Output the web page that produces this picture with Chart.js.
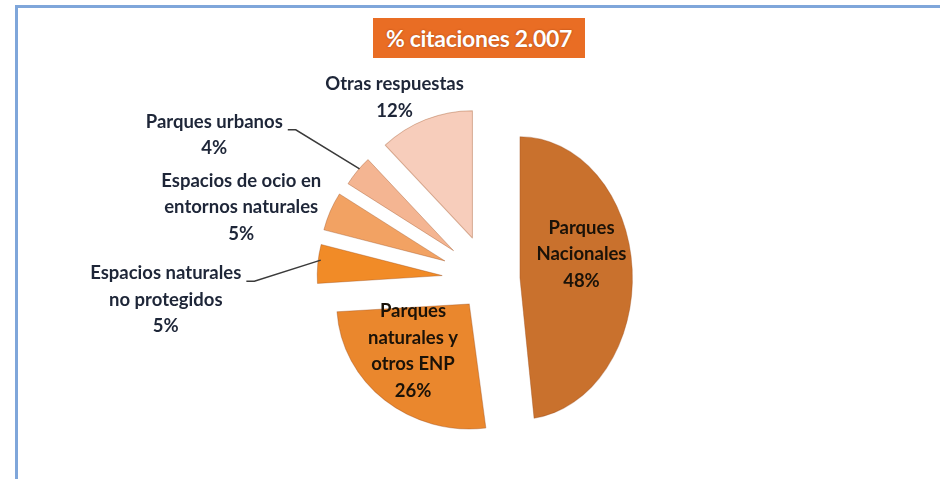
<!DOCTYPE html>
<html>
<head>
<meta charset="utf-8">
<script src="https://cdn.jsdelivr.net/npm/chart.js@4.4.0/dist/chart.umd.min.js"></script>
<style>
    html, body { margin: 0; padding: 0; background: #fff; overflow: hidden; }
    #wrap { position: relative; width: 940px; height: 479px; }
    #frame {
        position: absolute; left: 15px; top: 5px; width: 1000px; height: 600px;
        border-left: 3px solid #7fa6da; border-top: 3px solid #7fa6da;
    }
    #titulo {
        position: absolute; left: 373px; top: 18px; width: 212px; height: 40px;
        background: #e96d24; color: #fff; font: bold 23px Lato, sans-serif;
        line-height: 40px; text-align: center; letter-spacing: -0.3px;
        text-shadow: 0 0 2px rgba(120, 40, 0, 0.6);
    }
    canvas { position: absolute; left: 0; top: 0; }
</style>
</head>
<body>
<div id="wrap">
    <div id="frame"></div>
    <canvas id="grafico" width="940" height="479"></canvas>
    <div id="titulo">% citaciones 2.007</div>
</div>
<script>
// --- Dados ---
const categorias = [
    'Parques Nacionales',
    'Parques naturales y otros ENP',
    'Espacios naturales no protegidos',
    'Espacios de ocio en entornos naturales',
    'Parques urbanos',
    'Otras respuestas'
];
const porcentajes = [48, 26, 5, 5, 4, 12];

// linhas de texto de cada rótulo
const rotulos = [
    ['Parques', 'Nacionales'],
    ['Parques', 'naturales y', 'otros ENP'],
    ['Espacios naturales', 'no protegidos'],
    ['Espacios de ocio en', 'entornos naturales'],
    ['Parques urbanos'],
    ['Otras respuestas']
];

// --- Estilo ---
const cores = ['#c9712d', '#ea872d', '#f18b27', '#f2a263', '#f4b592', '#f7cdbb'];
const explode = [31, 31, 47, 48, 46, 45];          // deslocamento de cada fatia
const escalaX = [0.9, 1.06, 1.0, 1.0, 1.0, 1.02];  // raio horizontal relativo
const escalaY = [1.13, 1.0, 1.0, 1.0, 1.0, 1.02];  // raio vertical relativo
// [fração do raio, dx, dy, linha guia]
const posRotulo = [
    [0.45, 11, -20, false],
    [0.5, -14, -1, false],
    [1, -152, 36, true],
    [1, -89, -4, false],
    [1, -143, -36, true],
    [1, -31, -22, false]
];

// controlador de pizza "explodida": desloca e escala cada fatia
class ExplodedPieController extends Chart.PieController {
    draw() {
        const ctx = this.chart.ctx;
        const arcs = this._cachedMeta.data;
        arcs.forEach((arc, i) => {
            const mid = (arc.startAngle + arc.endAngle) / 2;
            const ax = arc.x + Math.cos(mid) * explode[i];
            const ay = arc.y + Math.sin(mid) * explode[i];
            ctx.save();
            ctx.translate(ax, ay);
            ctx.scale(escalaX[i], escalaY[i]);
            ctx.translate(-arc.x, -arc.y);
            arc.draw(ctx);
            ctx.restore();
        });
    }
}
ExplodedPieController.id = 'explodedPie';
Chart.register(ExplodedPieController);

function geometria(arc, i) {
    const mid = (arc.startAngle + arc.endAngle) / 2;
    const ax = arc.x + Math.cos(mid) * explode[i];
    const ay = arc.y + Math.sin(mid) * explode[i];
    const rx = arc.outerRadius * escalaX[i];
    const ry = arc.outerRadius * escalaY[i];
    return { mid, ax, ay, rx, ry };
}

const rotulosPlugin = {
    id: 'rotulos',
    afterDatasetsDraw(chart) {
        const ctx = chart.ctx;
        const arcs = chart.getDatasetMeta(0).data;
        const lh = 26.5;
        ctx.save();
        ctx.font = 'bold 18.5px Lato, sans-serif';
        ctx.textAlign = 'center';
        ctx.textBaseline = 'middle';
        arcs.forEach((arc, i) => {
            const g = geometria(arc, i);
            const [frac, dx, dy, guia] = posRotulo[i];
            const cx = g.ax + Math.cos(g.mid) * g.rx * frac + dx;
            const cy = g.ay + Math.sin(g.mid) * g.ry * frac + dy;
            const linhas = rotulos[i].concat([porcentajes[i] + '%']);
            const y0 = cy - (linhas.length - 1) / 2 * lh;
            ctx.fillStyle = frac < 1 ? '#1a1208' : '#1e2638';
            linhas.forEach((t, k) => ctx.fillText(t, cx, y0 + k * lh));

            if (guia) {
                const w = ctx.measureText(linhas[0]).width;
                const sx = cx + w / 2 + 5;
                const sy = y0 + 8;
                const ex = g.ax + Math.cos(g.mid) * (g.rx - 3);
                const ey = g.ay + Math.sin(g.mid) * (g.ry - 3) - 4;
                ctx.strokeStyle = '#3a3a3a';
                ctx.lineWidth = 1.5;
                ctx.beginPath();
                ctx.moveTo(sx, sy);
                ctx.lineTo(sx + 8, sy);
                ctx.lineTo(ex, ey);
                ctx.stroke();
            }
        });
        ctx.restore();
    }
};

new Chart(document.getElementById('grafico'), {
    type: 'explodedPie',
    data: {
        labels: categorias,
        datasets: [{
            data: porcentajes,
            backgroundColor: cores,
            borderColor: 'rgba(150, 70, 20, 0.35)',
            borderWidth: 1,
            clip: false
        }]
    },
    options: {
        responsive: false,
        animation: false,
        radius: 125,
        layout: { padding: { left: 38, right: 0, top: 81, bottom: 0 } },
        plugins: {
            legend: { display: false },
            tooltip: { enabled: false },
            title: { display: false }
        }
    },
    plugins: [rotulosPlugin]
});
</script>
</body>
</html>
